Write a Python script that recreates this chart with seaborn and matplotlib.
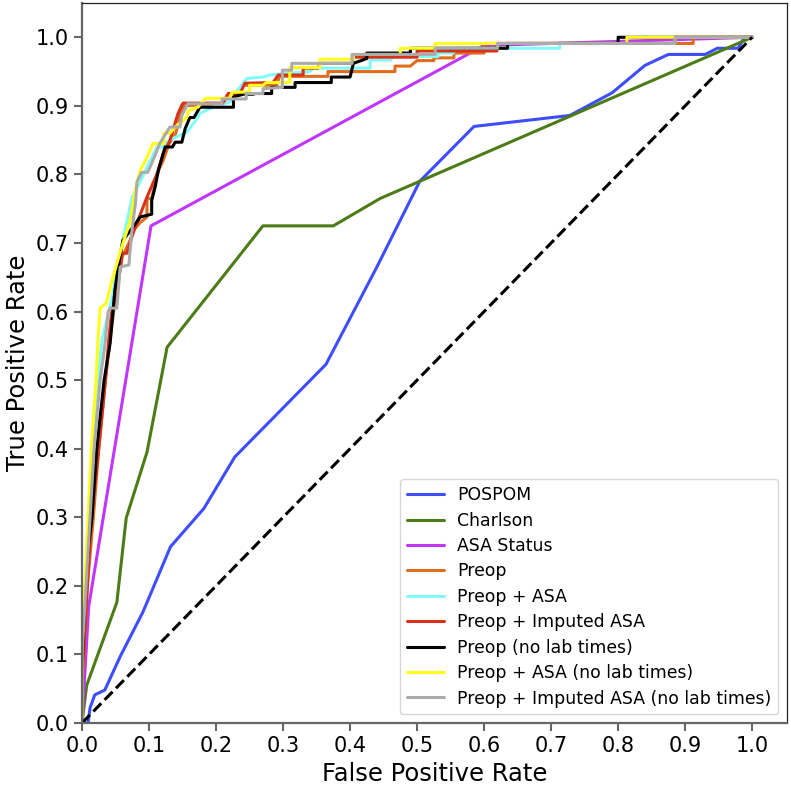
import matplotlib
matplotlib.use('Agg')
import matplotlib.pyplot as plt
import seaborn as sns

# ROC curves (fpr / tpr corner points)
pospom_fpr = [0.0, 0.009, 0.012, 0.019, 0.034, 0.057, 0.091, 0.132, 0.182, 0.228, 0.364, 0.44, 0.504, 0.585, 0.728, 0.791, 0.840, 0.875, 0.930, 0.948, 0.979, 0.987, 1.0]
pospom_tpr = [0.0, 0.0, 0.022, 0.041, 0.048, 0.097, 0.162, 0.257, 0.313, 0.388, 0.523, 0.665, 0.79, 0.870, 0.886, 0.919, 0.959, 0.975, 0.975, 0.984, 0.984, 0.997, 1.0]

charlson_fpr = [0.0, 0.007, 0.052, 0.066, 0.097, 0.127, 0.27, 0.375, 0.445, 1.0]
charlson_tpr = [0.0, 0.055, 0.176, 0.299, 0.395, 0.548, 0.725, 0.725, 0.765, 1.0]

asa_fpr = [0.0, 0.01, 0.103, 0.60, 1.0]
asa_tpr = [0.0, 0.17, 0.725, 0.988, 1.0]

preop_fpr = [0.0, 0.0, 0.008, 0.017, 0.025, 0.035, 0.042, 0.05, 0.06, 0.07, 0.078, 0.087, 0.097, 0.097, 0.104, 0.112, 0.116, 0.121, 0.13, 0.14, 0.146, 0.152, 0.21, 0.218, 0.236, 0.24, 0.29, 0.295, 0.367, 0.367, 0.467, 0.467, 0.49, 0.5, 0.525, 0.525, 0.555, 0.555, 0.6, 0.6, 0.912, 0.912, 1.0]
preop_tpr = [0.0, 0.05, 0.2, 0.3, 0.4, 0.5, 0.56, 0.62, 0.68, 0.7, 0.72, 0.73, 0.738, 0.765, 0.765, 0.8, 0.81, 0.82, 0.845, 0.86, 0.885, 0.9, 0.903, 0.915, 0.918, 0.93, 0.93, 0.943, 0.943, 0.95, 0.95, 0.958, 0.958, 0.966, 0.966, 0.97, 0.97, 0.977, 0.977, 0.991, 0.991, 1.0, 1.0]

preop_asa_fpr = [0.0, 0.0, 0.005, 0.01, 0.016, 0.024, 0.03, 0.045, 0.06, 0.075, 0.087, 0.097, 0.112, 0.121, 0.13, 0.157, 0.166, 0.172, 0.176, 0.2, 0.22, 0.23, 0.246, 0.27, 0.28, 0.34, 0.345, 0.43, 0.43, 0.46, 0.465, 0.531, 0.531, 0.554, 0.56, 0.713, 0.713, 0.885, 0.885, 1.0]
preop_asa_tpr = [0.0, 0.1, 0.2, 0.3, 0.4, 0.5, 0.56, 0.62, 0.7, 0.767, 0.79, 0.81, 0.84, 0.84, 0.85, 0.862, 0.874, 0.882, 0.889, 0.9, 0.905, 0.92, 0.94, 0.942, 0.945, 0.95, 0.955, 0.955, 0.967, 0.967, 0.972, 0.972, 0.977, 0.977, 0.984, 0.984, 0.991, 0.991, 1.0, 1.0]

preop_imp_fpr = [0.0, 0.0, 0.008, 0.014, 0.025, 0.035, 0.04, 0.044, 0.052, 0.06, 0.067, 0.076, 0.097, 0.112, 0.121, 0.131, 0.143, 0.149, 0.151, 0.21, 0.218, 0.236, 0.243, 0.285, 0.293, 0.33, 0.33, 0.352, 0.355, 0.403, 0.405, 0.5, 0.5, 0.619, 0.619, 0.885, 0.885, 1.0]
preop_imp_tpr = [0.0, 0.06, 0.2, 0.3, 0.4, 0.5, 0.56, 0.597, 0.627, 0.685, 0.685, 0.714, 0.767, 0.801, 0.83, 0.849, 0.888, 0.901, 0.904, 0.904, 0.918, 0.918, 0.933, 0.934, 0.945, 0.945, 0.955, 0.955, 0.962, 0.962, 0.971, 0.971, 0.98, 0.98, 0.991, 0.991, 1.0, 1.0]

preop_nolab_fpr = [0.0, 0.0, 0.005, 0.01, 0.015, 0.022, 0.033, 0.042, 0.049, 0.054, 0.061, 0.076, 0.087, 0.104, 0.104, 0.109, 0.114, 0.124, 0.135, 0.139, 0.149, 0.154, 0.161, 0.167, 0.176, 0.226, 0.226, 0.241, 0.256, 0.256, 0.283, 0.283, 0.318, 0.318, 0.372, 0.372, 0.4, 0.405, 0.425, 0.425, 0.49, 0.49, 0.635, 0.635, 0.80, 0.80, 1.0]
preop_nolab_tpr = [0.0, 0.08, 0.2, 0.26, 0.3, 0.4, 0.5, 0.554, 0.631, 0.665, 0.704, 0.723, 0.738, 0.742, 0.762, 0.781, 0.806, 0.84, 0.84, 0.847, 0.847, 0.867, 0.883, 0.883, 0.898, 0.898, 0.913, 0.917, 0.917, 0.918, 0.918, 0.927, 0.927, 0.934, 0.934, 0.942, 0.942, 0.962, 0.969, 0.977, 0.977, 0.984, 0.984, 0.991, 0.991, 1.0, 1.0]

preop_asa_nolab_fpr = [0.0, 0.0, 0.004, 0.009, 0.014, 0.021, 0.024, 0.027, 0.036, 0.046, 0.058, 0.072, 0.08, 0.087, 0.097, 0.106, 0.122, 0.122, 0.131, 0.14, 0.156, 0.159, 0.173, 0.184, 0.22, 0.224, 0.25, 0.25, 0.27, 0.275, 0.31, 0.31, 0.355, 0.355, 0.405, 0.405, 0.475, 0.475, 0.527, 0.527, 0.813, 0.813, 1.0]
preop_asa_nolab_tpr = [0.0, 0.12, 0.2, 0.3, 0.4, 0.5, 0.56, 0.605, 0.612, 0.65, 0.69, 0.733, 0.78, 0.806, 0.825, 0.845, 0.845, 0.86, 0.86, 0.87, 0.883, 0.893, 0.898, 0.911, 0.911, 0.92, 0.92, 0.93, 0.93, 0.934, 0.934, 0.956, 0.956, 0.968, 0.968, 0.975, 0.975, 0.984, 0.984, 0.991, 0.991, 1.0, 1.0]

preop_imp_nolab_fpr = [0.0, 0.0, 0.006, 0.012, 0.018, 0.027, 0.034, 0.039, 0.042, 0.052, 0.057, 0.07, 0.074, 0.08, 0.082, 0.089, 0.098, 0.104, 0.116, 0.131, 0.146, 0.149, 0.158, 0.209, 0.209, 0.245, 0.245, 0.27, 0.27, 0.299, 0.299, 0.313, 0.313, 0.403, 0.403, 0.527, 0.527, 0.62, 0.62, 0.885, 0.885, 1.0]
preop_imp_nolab_tpr = [0.0, 0.1, 0.2, 0.3, 0.4, 0.5, 0.55, 0.6, 0.605, 0.605, 0.665, 0.668, 0.714, 0.76, 0.789, 0.803, 0.803, 0.816, 0.845, 0.869, 0.869, 0.886, 0.903, 0.903, 0.91, 0.91, 0.918, 0.918, 0.925, 0.927, 0.952, 0.952, 0.962, 0.962, 0.975, 0.975, 0.984, 0.984, 0.991, 0.991, 1.0, 1.0]

labels = ['POSPOM', 'Charlson', 'ASA Status', 'Preop', 'Preop + ASA', 'Preop + Imputed ASA',
          'Preop (no lab times)', 'Preop + ASA (no lab times)', 'Preop + Imputed ASA (no lab times)']
colors = ['#3d4dff', '#4b7c16', '#c136ff', '#e06c1e', '#80fbfb', '#d8321a', '#000000', '#ffff1a', '#ababab']
curves = [(pospom_fpr, pospom_tpr), (charlson_fpr, charlson_tpr), (asa_fpr, asa_tpr),
          (preop_fpr, preop_tpr), (preop_asa_fpr, preop_asa_tpr), (preop_imp_fpr, preop_imp_tpr),
          (preop_nolab_fpr, preop_nolab_tpr), (preop_asa_nolab_fpr, preop_asa_nolab_tpr),
          (preop_imp_nolab_fpr, preop_imp_nolab_tpr)]

sns.set_style('ticks')
plt.rcParams['font.family'] = ['DejaVu Sans']
plt.rcParams['text.color'] = 'black'
plt.rcParams['axes.labelcolor'] = 'black'

fig = plt.figure(figsize=(7.91, 7.87), dpi=100)
ax = fig.add_axes([82 / 791, 1 - 723 / 787, 705 / 791, 720 / 787])

for (fpr, tpr), lab, col in zip(curves, labels, colors):
    sns.lineplot(x=fpr, y=tpr, sort=False, estimator=None, color=col, label=lab, linewidth=2.2, ax=ax)

ax.plot([0, 1], [0, 1], color='black', linestyle='--', linewidth=2.2)

ax.set_xlim(0, 1.052)
ax.set_ylim(0, 1.05)
ax.set_xticks([i / 10 for i in range(11)])
ax.set_yticks([i / 10 for i in range(11)])
ax.set_xlabel('False Positive Rate', fontsize=17.5, color='black')
ax.set_ylabel('True Positive Rate', fontsize=17.5, color='black')
ax.tick_params(axis='both', labelsize=15, direction='out', length=6, width=1.5,
               color='#666666', labelcolor='black')

for s in ['left', 'bottom']:
    ax.spines[s].set_color('#666666')
    ax.spines[s].set_linewidth(1.6)
for s in ['top', 'right']:
    ax.spines[s].set_color('#222222')
    ax.spines[s].set_linewidth(0.9)

leg = ax.legend(loc='lower right', fontsize=12.4, handlelength=2.15, handletextpad=0.75,
                labelspacing=0.43, frameon=True, fancybox=True)
leg.get_frame().set_edgecolor('#cccccc')
for t in leg.get_texts():
    t.set_color('black')

fig.savefig('out.png', dpi=100)
